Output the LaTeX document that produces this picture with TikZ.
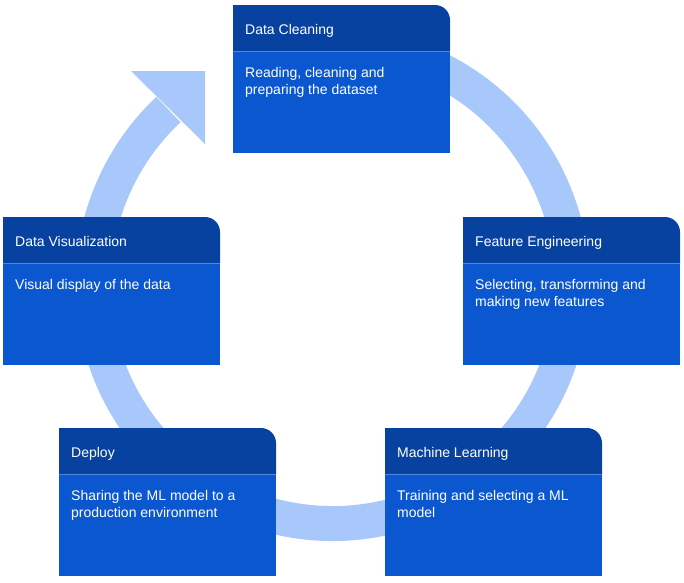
\documentclass[tikz,border=0pt]{standalone}
\usepackage{fontspec}
\setmainfont{Liberation Sans}

\definecolor{headblue}{HTML}{0842A0}
\definecolor{bodyblue}{HTML}{0B57D0}
\definecolor{ringblue}{HTML}{A8C7FA}
\definecolor{seamblue}{HTML}{4F86E2}

\tikzset{
  cardtitle/.style={text=white, anchor=base west, inner sep=0, font=\fontsize{14}{16.7}\selectfont},
  cardtext/.style={text=white, anchor=north west, inner sep=0, align=left, font=\fontsize{14}{16.7}\selectfont},
  ring/.style={ringblue, line width=35pt},
}

% #1 name, #2 left, #3 top, #4 title, #5 text
\newcommand{\stepcard}[5]{
  \fill[bodyblue] (#2,#3+46) rectangle (#2+217,#3+148);
  \fill[headblue] (#2,#3) -- (#2+202,#3) arc[start angle=270, end angle=360, radius=15] -- (#2+217,#3+46) -- (#2,#3+46) -- cycle;
  \draw[seamblue, line width=1pt] (#2,#3+46) -- (#2+217,#3+46);
  \node[cardtitle] (#1) at (#2+12,#3+29.3) {#4};
  \node[cardtext] (#1-text) at (#2+12,#3+62.5) {#5};
}

\begin{document}
\begin{tikzpicture}[x=1pt, y=-1pt]

\useasboundingbox (0,0) rectangle (684,582);

\coordinate (hub) at (332.5,284);

\draw[ring] (hub) ++(-80:239.5) arc[start angle=-80, end angle=226.75, radius=239.5];
\fill[ringblue] (131,71) -- (205,71) -- (205,144) -- cycle;

\stepcard{clean}{233}{5}{Data Cleaning}{Reading, cleaning and\\preparing the dataset}
\stepcard{feature}{463}{217}{Feature Engineering}{Selecting, transforming and\\making new features}
\stepcard{learn}{385}{428}{Machine Learning}{Training and selecting a ML\\model}
\stepcard{deploy}{59}{428}{Deploy}{Sharing the ML model to a\\production environment}
\stepcard{visual}{3}{217}{Data Visualization}{Visual display of the data}

\end{tikzpicture}
\end{document}
